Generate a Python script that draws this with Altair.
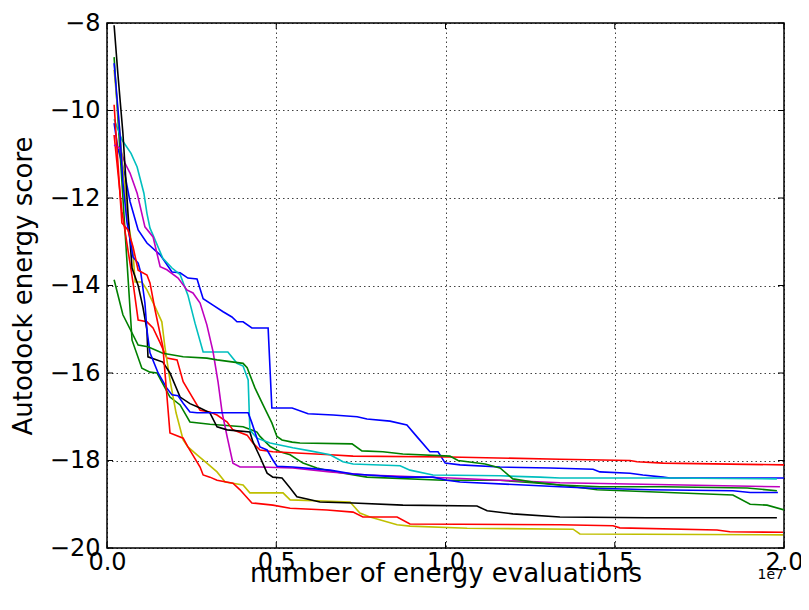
import altair as alt
import pandas as pd

# ---- data (x in units of 1e7 energy evaluations, y = Autodock energy score) ----
b1_x = [0.021,0.032,0.053,0.068,0.092,0.118,0.157,0.192,0.216,0.239,0.266,0.284,0.313,0.343,0.369,0.384,0.402,0.428,0.476,0.487,0.547,0.594,0.668,0.739,0.768,0.836,0.886,0.916,0.954,0.978,0.999,1.043,1.161,1.309,1.436,1.456,1.545,1.583,1.643,1.663,2.0]
b1_y = [-10.29,-10.86,-11.47,-12.08,-12.73,-13.03,-13.3,-13.69,-13.71,-13.83,-13.85,-14.3,-14.45,-14.6,-14.72,-14.83,-14.83,-14.97,-14.97,-16.8,-16.8,-16.93,-16.96,-17.0,-17.05,-17.1,-17.19,-17.46,-17.8,-17.8,-18.06,-18.1,-18.15,-18.17,-18.2,-18.26,-18.29,-18.33,-18.38,-18.4,-18.4]

g1_x = [0.021,0.053,0.074,0.103,0.127,0.148,0.186,0.216,0.245,0.304,0.402,0.443,0.452,0.482,0.511,0.541,0.579,0.62,0.659,0.768,0.993,1.161,1.258,1.338,1.448,1.849,1.9,1.95,2.0]
g1_y = [-8.78,-12.73,-15.25,-15.89,-15.98,-16.0,-16.55,-16.73,-17.12,-17.17,-17.23,-17.35,-17.45,-17.68,-17.8,-17.87,-18.06,-18.17,-18.24,-18.38,-18.45,-18.45,-18.51,-18.56,-18.67,-18.79,-19.0,-19.02,-19.13]

r1_x = [0.021,0.044,0.077,0.092,0.118,0.136,0.157,0.177,0.207,0.225,0.245,0.275,0.304,0.325,0.355,0.372,0.414,0.431,0.452,0.49,0.659,0.727,1.013,1.338,1.545,1.566,1.643,2.0]
r1_y = [-10.56,-12.3,-13.94,-14.79,-14.83,-14.97,-15.31,-15.66,-15.7,-16.2,-16.46,-16.85,-16.89,-16.96,-17.12,-17.3,-17.42,-17.6,-17.76,-17.8,-17.87,-17.9,-17.92,-17.97,-18.0,-18.03,-18.06,-18.1]

c_x = [0.021,0.044,0.071,0.089,0.109,0.118,0.127,0.136,0.165,0.192,0.216,0.239,0.26,0.284,0.357,0.384,0.402,0.417,0.422,0.443,0.482,0.549,0.6,0.659,0.697,0.727,0.866,0.895,0.963,1.161,1.279,1.338,1.643,1.979]
c_y = [-10.2,-10.67,-10.98,-11.29,-11.89,-12.35,-12.69,-12.85,-13.38,-13.6,-13.75,-14.22,-14.86,-15.52,-15.52,-15.78,-15.84,-16.16,-17.3,-17.49,-17.6,-17.71,-17.78,-17.87,-18.03,-18.08,-18.12,-18.22,-18.33,-18.35,-18.38,-18.4,-18.4,-18.42]

m_x = [0.021,0.038,0.053,0.068,0.089,0.112,0.136,0.157,0.177,0.21,0.236,0.254,0.275,0.295,0.313,0.328,0.34,0.355,0.372,0.393,0.452,0.549,0.659,0.768,1.013,1.161,1.338,1.702,1.988]
m_y = [-10.79,-10.86,-11.2,-11.43,-11.89,-12.66,-12.89,-13.57,-13.64,-13.83,-14.1,-14.17,-14.4,-14.9,-15.5,-16.2,-16.9,-17.46,-18.06,-18.15,-18.15,-18.17,-18.26,-18.33,-18.4,-18.45,-18.51,-18.56,-18.6]

y_x = [0.021,0.032,0.047,0.059,0.077,0.083,0.103,0.118,0.142,0.162,0.171,0.186,0.204,0.225,0.239,0.266,0.295,0.325,0.349,0.402,0.422,0.52,0.541,0.659,0.718,0.747,0.777,0.857,0.895,1.064,1.377,1.397,1.997]
y_y = [-9.07,-9.99,-11.3,-12.35,-13.26,-13.92,-13.92,-14.1,-14.49,-14.83,-15.4,-16.16,-16.91,-17.53,-17.69,-17.87,-18.06,-18.26,-18.49,-18.56,-18.74,-18.74,-18.9,-18.93,-18.95,-19.2,-19.29,-19.47,-19.5,-19.55,-19.57,-19.68,-19.7]

k_x = [0.021,0.032,0.047,0.062,0.074,0.092,0.106,0.118,0.121,0.165,0.186,0.216,0.245,0.275,0.304,0.325,0.355,0.422,0.431,0.452,0.473,0.49,0.517,0.541,0.561,0.591,0.629,0.727,0.874,1.093,1.123,1.199,1.338,1.595,1.979]
k_y = [-8.05,-9.15,-10.52,-12.35,-13.6,-14.0,-14.49,-15.02,-15.63,-15.75,-16.0,-16.55,-16.7,-16.8,-16.91,-17.23,-17.3,-17.35,-17.57,-17.92,-18.29,-18.38,-18.4,-18.63,-18.83,-18.88,-18.95,-18.97,-19.02,-19.04,-19.15,-19.22,-19.29,-19.31,-19.31]

b2_x = [0.021,0.038,0.047,0.059,0.077,0.092,0.1,0.112,0.118,0.127,0.151,0.177,0.192,0.21,0.225,0.245,0.266,0.417,0.428,0.443,0.452,0.473,0.49,0.502,0.549,0.659,0.727,0.866,0.963,1.004,1.043,1.338,1.418,1.604,1.849,1.9,1.982]
b2_y = [-8.92,-10.5,-11.64,-12.55,-13.35,-13.49,-13.71,-14.4,-15.02,-15.54,-16.0,-16.35,-16.5,-16.52,-16.69,-16.89,-16.91,-16.91,-17.14,-17.49,-17.69,-17.76,-17.99,-18.13,-18.15,-18.22,-18.31,-18.38,-18.38,-18.45,-18.49,-18.6,-18.63,-18.67,-18.69,-18.73,-18.73]

g2_x = [0.021,0.047,0.092,0.121,0.165,0.225,0.295,0.325,0.402,0.414,0.437,0.461,0.487,0.502,0.517,0.547,0.57,0.724,0.753,0.815,0.874,1.013,1.037,1.117,1.161,1.199,1.258,1.338,1.456,1.643,1.891,1.979]
g2_y = [-13.87,-14.67,-15.36,-15.4,-15.55,-15.63,-15.66,-15.7,-15.78,-15.88,-16.34,-16.73,-17.14,-17.45,-17.53,-17.58,-17.6,-17.62,-17.78,-17.8,-17.85,-17.9,-18.0,-18.08,-18.17,-18.42,-18.49,-18.56,-18.6,-18.6,-18.63,-18.69]

r2_x = [0.021,0.044,0.062,0.077,0.092,0.118,0.127,0.142,0.165,0.186,0.225,0.239,0.275,0.284,0.304,0.325,0.372,0.393,0.428,0.49,0.541,0.65,0.727,0.756,0.857,0.895,1.338,1.495,1.515,1.802,1.84,1.997]
r2_y = [-9.87,-12.57,-12.73,-13.12,-13.65,-13.76,-13.94,-14.56,-15.4,-17.37,-17.49,-17.69,-18.15,-18.33,-18.38,-18.45,-18.52,-18.67,-18.97,-19.02,-19.09,-19.13,-19.18,-19.29,-19.29,-19.45,-19.47,-19.49,-19.54,-19.59,-19.63,-19.64]

series = [(b1_x, b1_y), (g1_x, g1_y), (r1_x, r1_y), (c_x, c_y), (m_x, m_y),
          (y_x, y_y), (k_x, k_y), (b2_x, b2_y), (g2_x, g2_y), (r2_x, r2_y)]
colors = ["#0000ff", "#008000", "#ff0000", "#00bfbf", "#bf00bf",
          "#bfbf00", "#000000", "#0000ff", "#008000", "#ff0000"]

x_ticks = [0.0, 0.5, 1.0, 1.5, 2.0]
y_ticks = [-20, -18, -16, -14, -12, -10, -8]

rows = []
ids = []
for i, (xs, ys) in enumerate(series):
    sid = f"run{i:02d}"
    ids.append(sid)
    for j, (xv, yv) in enumerate(zip(xs, ys)):
        rows.append({"run": sid, "x": xv, "y": yv, "o": j})
df = pd.DataFrame(rows)

W, H = 677, 525
FONT = "DejaVu Sans"
xscale = alt.Scale(domain=[0, 2], nice=False, zero=False)
yscale = alt.Scale(domain=[-20, -8], nice=False, zero=False)
xaxis = alt.Axis(values=x_ticks, format=".1f", title="number of energy evaluations",
                 titleY=33, titleBaseline="alphabetic")
yaxis = alt.Axis(values=y_ticks, format="d", title="Autodock energy score",
                 titleX=-76, titleBaseline="alphabetic")

lines = alt.Chart(df).mark_line(strokeWidth=1.6, clip=True).encode(
    x=alt.X("x:Q", scale=xscale, axis=xaxis),
    y=alt.Y("y:Q", scale=yscale, axis=yaxis),
    color=alt.Color("run:N", scale=alt.Scale(domain=ids, range=colors), legend=None),
    order="o:Q",
)

xt = pd.DataFrame({"x": x_ticks})
yt = pd.DataFrame({"y": y_ticks})
TL = 6
tick_b = alt.Chart(xt).mark_rule(color="black", strokeWidth=1).encode(
    x=alt.X("x:Q", scale=xscale, axis=xaxis), y=alt.value(H), y2=alt.value(H - TL))
tick_t = alt.Chart(xt).mark_rule(color="black", strokeWidth=1).encode(
    x=alt.X("x:Q", scale=xscale, axis=xaxis), y=alt.value(0), y2=alt.value(TL))
tick_l = alt.Chart(yt).mark_rule(color="black", strokeWidth=1).encode(
    y=alt.Y("y:Q", scale=yscale, axis=yaxis), x=alt.value(0), x2=alt.value(TL))
tick_r = alt.Chart(yt).mark_rule(color="black", strokeWidth=1).encode(
    y=alt.Y("y:Q", scale=yscale, axis=yaxis), x=alt.value(W), x2=alt.value(W - TL))

exp_text = alt.Chart(pd.DataFrame({"t": ["1e7"]})).mark_text(
    font=FONT, fontSize=14, align="right", baseline="middle", color="black"
).encode(text="t:N", x=alt.value(W), y=alt.value(H + 27))

chart = alt.layer(lines, tick_b, tick_t, tick_l, tick_r, exp_text).properties(
    width=W, height=H,
    autosize=alt.AutoSizeParams(type="none"),
    padding={"left": 99, "top": 15, "right": 17, "bottom": 54},
).configure_view(
    stroke="black", strokeWidth=1.5
).configure_axis(
    labelFont=FONT, labelFontSize=24, labelColor="black",
    titleFont=FONT, titleFontSize=26, titleFontWeight="normal", titleColor="black",
    tickSize=0, domain=False,
    grid=True, gridColor="black", gridOpacity=0.75, gridDash=[1.5, 3], gridWidth=1,
    labelOverlap=False, labelFlush=False,
).configure_axisX(labelPadding=2).configure_axisY(labelPadding=7)

chart.save("out.html", embed_options={"renderer": "svg", "actions": False})
